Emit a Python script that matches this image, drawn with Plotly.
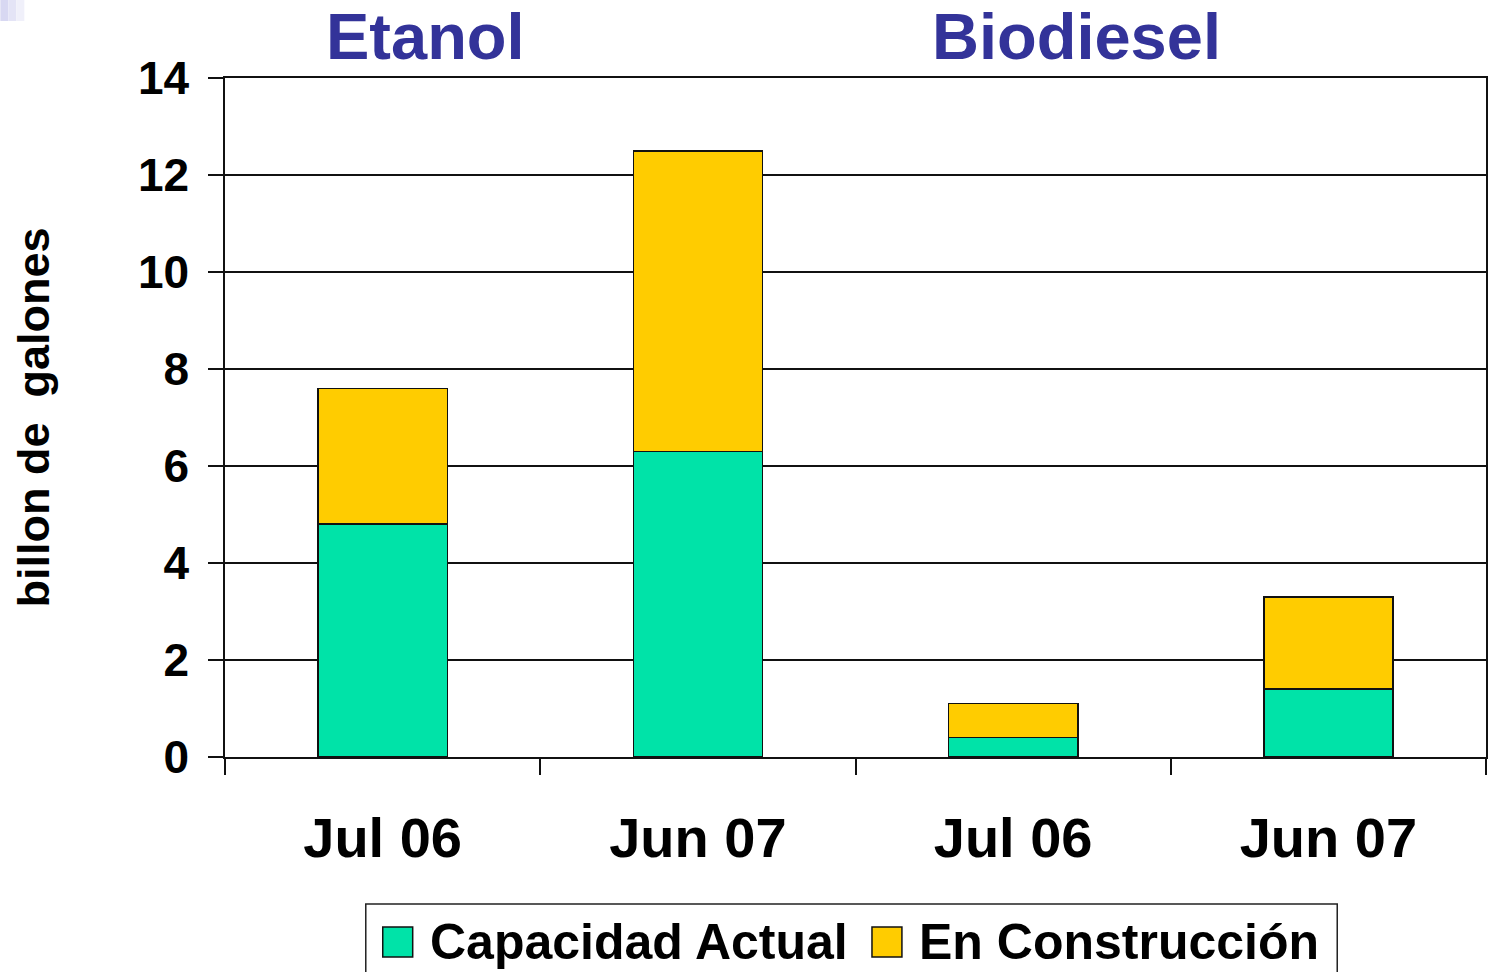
import numpy as np
import plotly.graph_objects as go

# ---- data ----
categories = ["Jul 06", "Jun 07", "Jul 06", "Jun 07"]
groups = ["Etanol", "Biodiesel"]
capacidad_actual = [4.8, 6.3, 0.4, 1.4]
en_construccion = [2.8, 6.2, 0.7, 1.9]
series_names = ["Capacidad Actual", "En Construcción"]
y_ticks = [0, 2, 4, 6, 8, 10, 12, 14]
y_title = "billon de\u00a0\u00a0galones"

GREEN = "#00E3A8"
YELLOW = "#FFCC00"
TITLE_BLUE = "#333399"
FONT = "Arial, Liberation Sans, sans-serif"
series_colors = [GREEN, YELLOW]

W, H = 1489, 972
L, R, T, B = 225, 1, 78, 215
PW, PH = W - L - R, H - T - B


def px_x(px):
    return (px - L) / PW


def px_y(py):
    return (H - B - py) / PH


pos = np.arange(len(categories)) + 0.5

fig = go.Figure()
for name, vals, col in zip(series_names, [capacidad_actual, en_construccion], series_colors):
    fig.add_trace(go.Bar(
        x=pos, y=vals, name=name, width=0.41,
        marker=dict(color=col, line=dict(color="#111111", width=1.5)),
        xaxis="x", yaxis="y", showlegend=False,
    ))

# invisible trace to carry the category label axis
fig.add_trace(go.Scatter(x=pos, y=[None] * len(pos), xaxis="x2", yaxis="y",
                         showlegend=False, hoverinfo="skip", mode="markers"))

fig.update_layout(
    width=W, height=H,
    margin=dict(l=L, r=R, t=T, b=B),
    paper_bgcolor="white", plot_bgcolor="white",
    barmode="stack",
    font=dict(family=FONT, color="black", weight="bold"),
    showlegend=False,
    xaxis=dict(
        range=[0, len(categories)], tickvals=list(range(len(categories) + 1)),
        ticktext=[""] * (len(categories) + 1),
        ticks="outside", ticklen=16, tickwidth=1.5, tickcolor="#111111",
        showline=True, linecolor="#111111", linewidth=1.5, mirror=True,
        showgrid=False, zeroline=False,
    ),
    xaxis2=dict(
        overlaying="x", side="bottom", anchor="y",
        range=[0, len(categories)], tickvals=list(pos), ticktext=categories,
        ticks="", showline=False, showgrid=False, zeroline=False,
        tickfont=dict(size=56, family=FONT, color="black", weight="bold"),
        ticklabelstandoff=43,
    ),
    yaxis=dict(
        range=[0, 14], tickvals=y_ticks, ticktext=[str(v) for v in y_ticks],
        ticks="outside", ticklen=15, tickwidth=1.5, tickcolor="#111111",
        showline=True, linecolor="#111111", linewidth=1.5, mirror=True,
        showgrid=True, gridcolor="#111111", gridwidth=1.5, zeroline=False,
        tickfont=dict(size=46, family=FONT, color="black", weight="bold"),
        ticklabelstandoff=10,
        title=dict(text=y_title, standoff=74,
                   font=dict(size=45, family=FONT, color="black", weight="bold")),
    ),
)

# group titles at the top
group_x = [426, 1078]
for g, gx in zip(groups, group_x):
    fig.add_annotation(
        text=g, xref="paper", yref="paper",
        x=px_x(gx), y=px_y(37),
        xanchor="center", yanchor="middle", showarrow=False,
        font=dict(size=65, family=FONT, color=TITLE_BLUE, weight="bold"),
    )

# legend (boxed, with large swatches)
fig.add_shape(type="rect", xref="paper", yref="paper",
              x0=px_x(366), x1=px_x(1339), y0=px_y(1000), y1=px_y(904),
              line=dict(color="#222222", width=1.5), fillcolor="white", layer="above")
legend_sw_x = [383, 873]
legend_tx_x = [428, 918]
for name, col, sx, tx in zip(series_names, series_colors, legend_sw_x, legend_tx_x):
    fig.add_shape(type="rect", xref="paper", yref="paper",
                  x0=px_x(sx), x1=px_x(sx + 30), y0=px_y(957), y1=px_y(927),
                  line=dict(color="#111111", width=1.5), fillcolor=col, layer="above")
    fig.add_annotation(text=name, xref="paper", yref="paper",
                       x=px_x(tx), y=px_y(942), xanchor="left", yanchor="middle",
                       showarrow=False,
                       font=dict(size=50, family=FONT, color="black", weight="bold"))

# small decorative gradient in the corner
strips = ["#D8D8F2", "#E4E4F6", "#F0F0FA"]
for i, c in enumerate(strips):
    fig.add_shape(type="rect", xref="paper", yref="paper",
                  x0=px_x(8 * i), x1=px_x(8 * (i + 1)),
                  y0=px_y(21), y1=px_y(0),
                  fillcolor=c, line=dict(width=0), layer="above")

fig.write_html(
    "out.html",
    config={"displayModeBar": False},
    post_script="document.body.style.margin='0';document.body.style.overflow='hidden';",
)
